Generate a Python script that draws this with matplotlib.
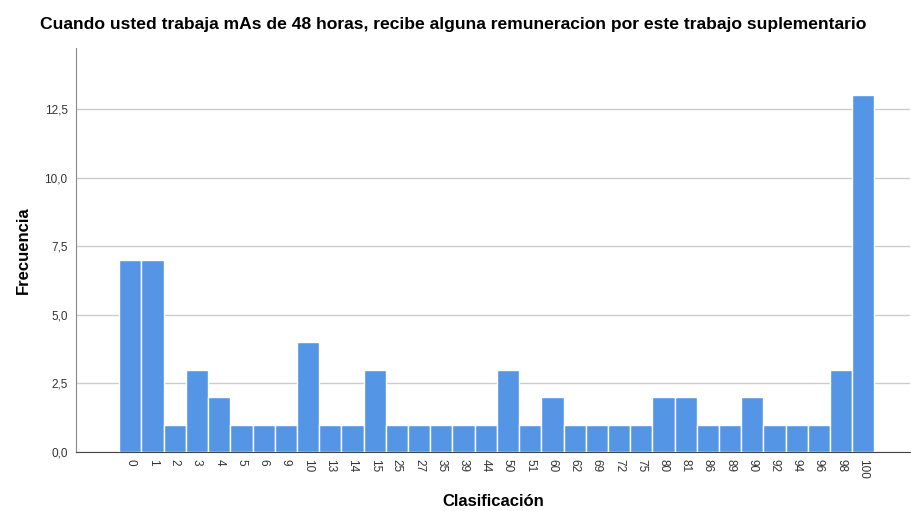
import matplotlib
matplotlib.use("Agg")
import matplotlib.pyplot as plt
from matplotlib.ticker import FuncFormatter, FixedLocator

categories = ["0", "1", "2", "3", "4", "5", "6", "9", "10", "13", "14", "15", "25", "27",
              "35", "39", "44", "50", "51", "60", "62", "69", "72", "75", "80", "81", "86",
              "89", "90", "92", "94", "96", "98", "100"]
frequencies = [7, 7, 1, 3, 2, 1, 1, 1, 4, 1, 1, 3, 1, 1, 1, 1, 1, 3, 1, 2, 1, 1, 1, 1,
               2, 2, 1, 1, 2, 1, 1, 1, 3, 13]
y_ticks = [0, 2.5, 5, 7.5, 10, 12.5]

plt.rcParams['font.family'] = ['Liberation Sans', 'DejaVu Sans']

fig = plt.figure(figsize=(9.11, 5.11), dpi=100)
ax = fig.add_axes([0.0834, 0.1155, 0.9155, 0.7906])

x = list(range(len(categories)))
ax.bar(x, frequencies, width=1.0, color='#5595e5', edgecolor='white', linewidth=1.0, zorder=3)

ax.set_xlim(-2.45, 35.1)
ax.set_ylim(0, 14.72)
ax.yaxis.set_major_locator(FixedLocator(y_ticks))
ax.yaxis.set_major_formatter(FuncFormatter(lambda v, p: f"{v:.1f}".replace('.', ',')))
ax.set_xticks(x)
ax.set_xticklabels(categories, rotation=270, fontsize=8.5, color='#333333')
ax.tick_params(axis='y', labelsize=8.5, colors='#333333', length=0, pad=6)
ax.tick_params(axis='x', length=0, pad=5)
ax.grid(axis='y', color='#cccccc', linewidth=1.0, zorder=0)

for s in ['top', 'right']:
    ax.spines[s].set_visible(False)
ax.spines['left'].set_color('#888888')
ax.spines['bottom'].set_color('#444444')

fig.text(453 / 911, 1 - 24 / 511,
         "Cuando usted trabaja mAs de 48 horas, recibe alguna remuneracion por este trabajo suplementario",
         fontsize=12.6, fontweight='bold', ha='center', va='center')
ax.set_ylabel("Frecuencia", fontsize=12, fontweight='bold', labelpad=10)
ax.set_xlabel("Clasificación", fontsize=12, fontweight='bold', labelpad=11)

fig.savefig("out.png", dpi=100)
